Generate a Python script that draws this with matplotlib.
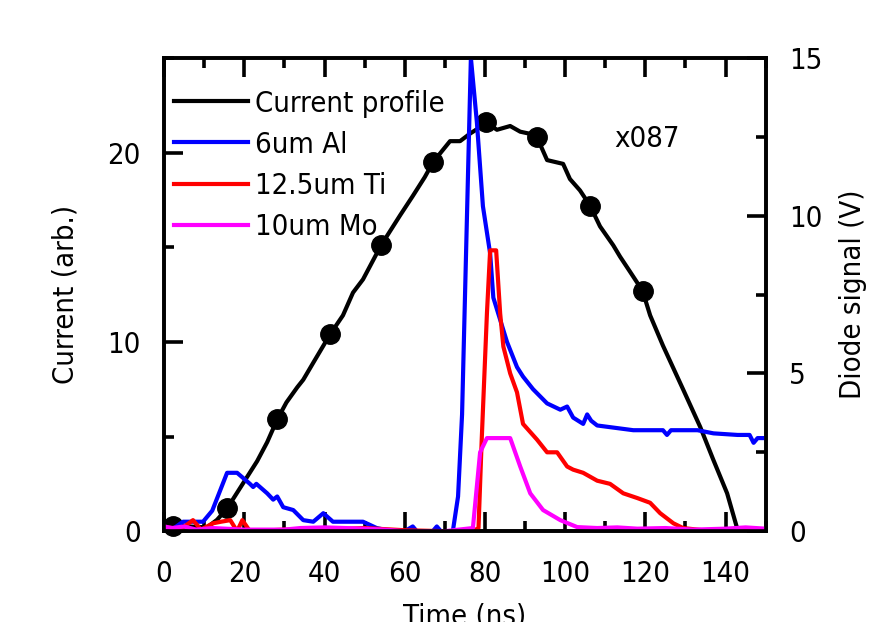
import numpy as np
import matplotlib.pyplot as plt

# current profile (left axis, arb.)
cur_t = [0, 2.2, 6, 10.7, 13.2, 15.7, 19, 21.4, 23.2, 25.7, 28.2, 30.5, 33.2, 34.7, 37.2,
         41.4, 44.6, 47.1, 49.6, 54.1, 56.5, 58.9, 62, 65, 67.1, 69, 71.3, 73.8, 76.3,
         78.5, 80.2, 83, 86.3, 88.8, 91, 93, 95.5, 97.5, 99.5, 101.2, 103.7, 106.2,
         108.7, 112, 113.7, 116.2, 119.3, 121.2, 124.4, 129.4, 133.7, 136.9, 140.4,
         142.9, 144]
cur_v = [0.3, 0.3, 0.25, 0.2, 0.6, 1.2, 2.3, 3.1, 3.7, 4.7, 5.9, 6.8, 7.6, 8.0, 8.9,
         10.4, 11.4, 12.6, 13.3, 15.1, 15.9, 16.7, 17.7, 18.7, 19.5, 20.0, 20.6, 20.6, 21.0,
         21.3, 21.6, 21.2, 21.4, 21.1, 21.0, 20.8, 19.6, 19.5, 19.4, 18.6, 18.0, 17.2,
         16.1, 15.1, 14.5, 13.7, 12.7, 11.4, 9.8, 7.5, 5.5, 3.8, 2.0,
         0.15, -0.6]
mark_t = [2.2, 15.7, 28.2, 41.4, 54.1, 67.1, 80.2, 93.0, 106.2, 119.3]
mark_v = [0.25, 1.2, 5.9, 10.4, 15.1, 19.5, 21.6, 20.8, 17.2, 12.7]

# diode signals (right axis, V)
al_t = [0, 2.5, 4.7, 9.7, 12, 15.7, 18.2, 21.4, 22.2, 23, 25.7, 27.2, 28.2, 29.7, 32.2,
        34.7, 37.2, 39.7, 42.1, 49.6, 53, 55.6, 60, 62, 63, 67, 68, 69, 72, 73.3, 74.3,
        76.5, 78, 79.5, 81.3, 82.1, 83.8, 85.5, 88, 89.5, 92, 95.5, 98.8, 100.5, 102,
        104.5, 105.5, 106.5, 108, 117, 124.4, 125.4, 126.4, 133, 137, 143, 146, 147, 148, 150]
al_v = [0.1, 0.1, 0.3, 0.3, 0.65, 1.85, 1.85, 1.5, 1.4, 1.5, 1.2, 1.0, 1.1, 0.76, 0.67,
        0.35, 0.3, 0.57, 0.3, 0.3, 0.1, 0.03, 0.0, 0.15, 0.0, 0.0, 0.15, 0.0, 0.0, 1.1, 3.7,
        15.0, 12.95, 10.3, 8.8, 7.4, 6.7, 6.0, 5.2, 4.9, 4.5, 4.05, 3.85, 3.95, 3.6,
        3.4, 3.7, 3.5, 3.35, 3.2, 3.2, 3.05, 3.2, 3.2, 3.1, 3.05, 3.05, 2.8, 2.95, 2.95]

ti_t = [0, 2, 4, 7.2, 9.2, 12.2, 14.2, 16.5, 18.2, 19.5, 21.4, 30, 40, 50, 60, 70, 77,
        78.4, 79.2, 80.5, 81.3, 82.8, 83.8, 84.6, 86.3, 88, 89.5, 93, 95.5, 98, 100.5,
        102, 104.5, 108, 111.2, 114.5, 118, 121.2, 123.7, 127, 129.4, 134.4, 140, 150]
ti_v = [0.13, 0.1, 0.05, 0.35, 0.05, 0.25, 0.3, 0.35, 0.0, 0.35, 0.0, 0.05, 0.05, 0.1, 0.03, 0.0, 0.0,
        0.1, 2.9, 6.9, 8.9, 8.9, 6.9, 5.85, 5.0, 4.4, 3.4, 2.9, 2.5, 2.5, 2.05,
        1.95, 1.85, 1.6, 1.5, 1.2, 1.05, 0.9, 0.57, 0.25, 0.1, 0.03, 0.0, 0.0]

mo_t = [0, 2, 5, 8, 12, 20, 30, 34, 40, 45, 50, 55, 60, 70, 77, 78.8, 80.5, 86.3, 88.8,
        91.3, 94.5, 98.8, 103, 108, 113, 118, 125, 132, 140, 145, 150]
mo_v = [0.15, 0.1, 0.15, 0.05, 0.1, 0.05, 0.05, 0.1, 0.12, 0.1, 0.08, 0.05, 0.0, 0.0, 0.1, 2.5,
        2.95, 2.95, 2.05, 1.2, 0.67, 0.35, 0.13, 0.1, 0.12, 0.08, 0.1, 0.05, 0.08, 0.12, 0.08]

plt.rcParams['font.family'] = 'DejaVu Sans'
plt.rcParams['font.stretch'] = 'condensed'
plt.rcParams['font.size'] = 21
fig = plt.figure(figsize=(8.73, 6.22), dpi=100)
ax = fig.add_axes([0.188, 0.146, 0.689, 0.761])
ax2 = ax.twinx()

l0, = ax.plot(cur_t, cur_v, color='k', lw=3)
ax.plot(mark_t, mark_v, 'o', color='k', ms=14, clip_on=False)
l1, = ax2.plot(al_t, al_v, color='blue', lw=3)
l2, = ax2.plot(ti_t, ti_v, color='red', lw=3)
l3, = ax2.plot(mo_t, mo_v, color='magenta', lw=3)

ax.set_xlim(0, 150)
ax.set_ylim(0, 25)
ax2.set_ylim(0, 15)
ax.set_xticks(np.arange(0, 141, 20))
ax.set_xticks(np.arange(0, 151, 10), minor=True)
ax.set_yticks([0, 10, 20])
ax.set_yticks(np.arange(0, 26, 5), minor=True)
ax2.set_yticks([0, 5, 10, 15])
ax2.set_yticks(np.arange(0, 15.1, 2.5), minor=True)

for a in (ax, ax2):
    for s in a.spines.values():
        s.set_linewidth(2.6)
ax.tick_params(which='both', direction='in', top=True, right=False, width=2.6)
ax.tick_params(which='major', length=14, pad=17)
ax.tick_params(axis='x', which='major', pad=21)
ax.tick_params(which='minor', length=7)
ax2.tick_params(which='both', direction='in', width=2.6)
ax2.tick_params(which='major', length=14, pad=17)
ax2.tick_params(which='minor', length=7)

ax.set_xlabel('Time (ns)', labelpad=10)
ax.set_ylabel('Current (arb.)', labelpad=20)
ax2.set_ylabel('Diode signal (V)', labelpad=12)
ax.text(120.5, 20.7, 'x087', ha='center', va='center')

ax.legend([l0, l1, l2, l3], ['Current profile', '6um Al', '12.5um Ti', '10um Mo'],
          loc='upper left', frameon=False, handlelength=2.55, handletextpad=0.25,
          labelspacing=0.45, borderaxespad=0.2, bbox_to_anchor=(-0.013, 0.97))

fig.savefig('out.png', dpi=100)
